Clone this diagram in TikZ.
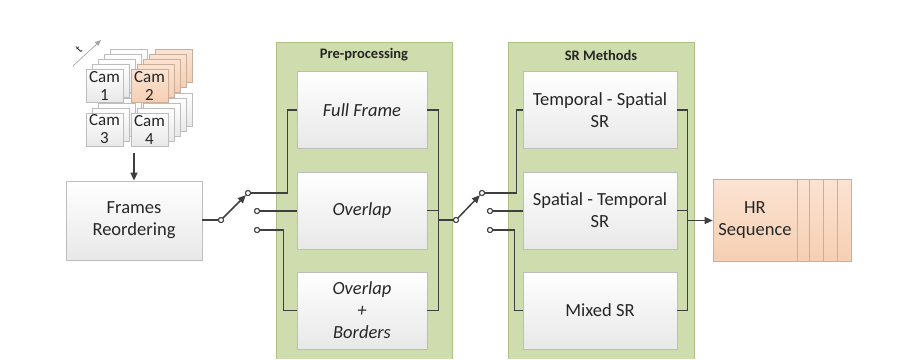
\documentclass[tikz,border=0pt]{standalone}
\usepackage{fontspec}
\setmainfont{Carlito}
\usetikzlibrary{arrows.meta,calc}
\definecolor{contfill}{HTML}{CFDCAE}
\definecolor{contline}{HTML}{AEC084}
\definecolor{boxline}{HTML}{BDBDBD}
\definecolor{boxbot}{HTML}{E8E8E8}
\definecolor{wire}{HTML}{3F3F3F}
\definecolor{peachtop}{HTML}{FBE3D2}
\definecolor{peachbot}{HTML}{F6CFB3}
\definecolor{peachline}{HTML}{C9AE9A}
\definecolor{txt}{HTML}{262626}
\begin{document}
\begin{tikzpicture}[x=1pt,y=-1pt,
  box/.style={draw=boxline, line width=0.8pt, top color=white, bottom color=boxbot,
    minimum width=130pt, minimum height=77pt, inner sep=0pt, align=center,
    text=txt, font=\fontsize{18.5}{22}\selectfont},
  srbox/.style={box, minimum width=154pt},
  tile/.style={draw=boxline, line width=0.7pt, top color=white, bottom color=boxbot,
    minimum width=37pt, minimum height=33pt, inner sep=0pt, align=center,
    text=txt, font=\fontsize{17}{18}\selectfont},
  ptile/.style={tile, draw=peachline, top color=peachtop, bottom color=peachbot},
  hrbox/.style={draw=peachline, line width=0.7pt, top color=peachtop, bottom color=peachbot,
    minimum width=84pt, minimum height=82pt, inner sep=0pt, align=center,
    text=txt, font=\fontsize{18.5}{22}\selectfont},
  wireline/.style={draw=wire, line width=1.5pt},
  term/.style={circle, draw=wire, fill=white, line width=1pt, inner sep=0pt, minimum size=5pt},
  tip/.style={-{Triangle[length=8pt,width=7pt]}},
  cont/.style={fill=contfill},
  title/.style={font=\bfseries\fontsize{14.5}{16}\selectfont, text=txt}
]
\useasboundingbox (0,0) rectangle (908,359);

% containers
\fill[cont] (276,42) rectangle (452,359);
\draw[contline, line width=0.8pt] (276,359) -- (276,42) -- (452,42) -- (452,359);
\fill[cont] (508,42) rectangle (694,359);
\draw[contline, line width=0.8pt] (508,359) -- (508,42) -- (694,42) -- (694,359);
\node[title] (pretitle) at (364,55) {Pre-processing};
\node[title] (srtitle) at (601,55) {SR Methods};

% camera stacks
\foreach \k in {4,3,2,1}{
  \node[tile] at ({104.5+6*\k},{85.5-5*\k}) {};
  \node[ptile] at ({149.5+6*\k},{85.5-5*\k}) {};
  \node[tile] at ({104.5+6*\k},{129.5-5*\k}) {};
  \node[tile] at ({149.5+6*\k},{129.5-5*\k}) {};
}
\node[tile] (cam1) at (104.5,85.5) {Cam\\1};
\node[ptile] (cam2) at (149.5,85.5) {Cam\\2};
\node[tile] (cam3) at (104.5,129.5) {Cam\\3};
\node[tile] (cam4) at (149.5,129.5) {Cam\\4};

% time arrow
\coordinate (t0) at (73,66);
\coordinate (t1) at (101,40);
\draw[gray!70, line width=0.7pt, -{Triangle[length=6pt,width=5pt]}] (t0) -- (t1);
\node[rotate=45, font=\fontsize{12}{14}\selectfont, text=txt] (tlabel) at (79,49) {t};

% frames reordering
\node[box, minimum width=136pt, minimum height=79pt] (fr) at (134,220.5) {Frames\\Reordering};
\coordinate (camout) at (134,153);
\draw[wireline, tip] (camout) -- (fr.north);

% pre-processing boxes
\node[box, font=\itshape\fontsize{18.5}{22}\selectfont] (ff) at (362,110) {Full Frame};
\node[box, font=\itshape\fontsize{18.5}{22}\selectfont] (ov) at (362,210.5) {Overlap};
\node[box, font=\itshape\fontsize{18.5}{22}\selectfont] (ob) at (362,310.5) {Overlap\\+\\Borders};

% SR boxes
\node[srbox] (s1) at (600,110) {Temporal - Spatial\\SR};
\node[srbox] (s2) at (600,210.5) {Spatial - Temporal\\SR};
\node[srbox] (s3) at (600,310.5) {Mixed SR};

% HR sequence
\foreach \k in {54,40,26,12}{
  \node[hrbox] at ({755+\k},220.5) {};
}
\node[hrbox] (hr) at (755,220.5) {HR\\Sequence};

% switch 1
\node[term] (p1) at (221,220) {};
\node[term] (a1) at (248,193) {};
\node[term] (b1) at (257,211) {};
\node[term] (c1) at (257,230) {};
\draw[wireline] (fr.east |- p1) -- (p1);
\draw[wireline, tip] (p1) -- (a1);
\draw[wireline] (a1) -| ([xshift=-9pt]ff.west) -- (ff.west);
\draw[wireline] (b1) -- (b1 -| ov.west);
\draw[wireline] (c1) -| ([xshift=-13pt]ob.west) -- (ob.west);

% bus 1
\coordinate (bus1) at ([xshift=11pt]ov.east);
\draw[wireline] (ff.east) -| (bus1) |- (ob.east);
\draw[wireline] (ov.east) -- (bus1);

% switch 2
\node[term] (p2) at (456,220) {};
\node[term] (a2) at (482,193) {};
\node[term] (b2) at (490,211) {};
\node[term] (c2) at (490,230) {};
\draw[wireline] (p2 -| bus1) -- (p2);
\draw[wireline, tip] (p2) -- (a2);
\draw[wireline] (a2) -| ([xshift=-6pt]s1.west) -- (s1.west);
\draw[wireline] (b2) -- (b2 -| s2.west);
\draw[wireline] (c2) -| ([xshift=-8pt]s3.west) -- (s3.west);

% bus 2
\coordinate (bus2) at ([xshift=10pt]s2.east);
\draw[wireline] (s1.east) -| (bus2) |- (s3.east);
\draw[wireline] (s2.east) -- (bus2);
\draw[wireline, tip] (bus2 |- hr.west) -- (hr.west);

% redraw terminals on top
\foreach \n in {p1,a1,b1,c1,p2,a2,b2,c2}{
  \node[term] at (\n) {};
}
\end{tikzpicture}
\end{document}
